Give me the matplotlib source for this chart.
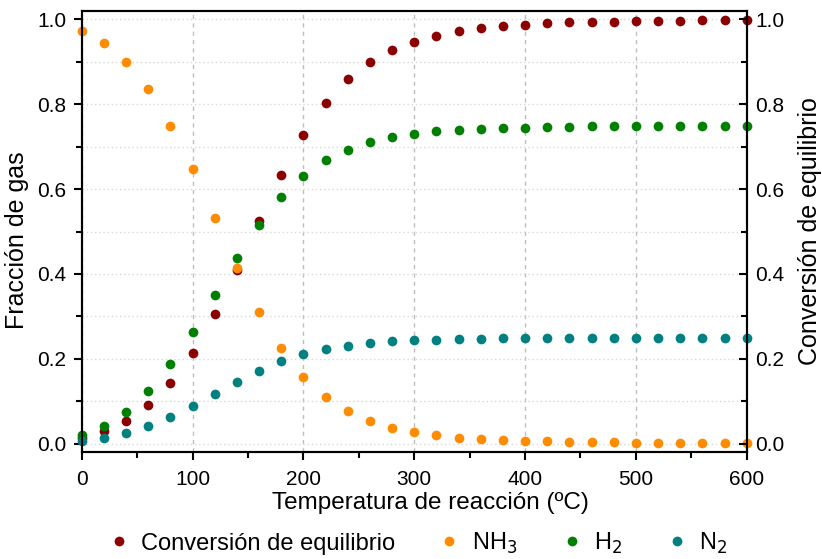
import matplotlib
matplotlib.use("Agg")
import matplotlib.pyplot as plt
from matplotlib.ticker import MultipleLocator, FormatStrFormatter

plt.rcParams["font.family"] = ["Liberation Sans", "DejaVu Sans"]

# Temperatura (ºC)
temperature = [0, 20, 40, 60, 80, 100, 120, 140, 160, 180, 200, 220, 240, 260,
               280, 300, 320, 340, 360, 380, 400, 420, 440, 460, 480, 500,
               520, 540, 560, 580, 600]

conversion = [0.014, 0.029, 0.053, 0.090, 0.143, 0.213, 0.305, 0.410, 0.525,
              0.633, 0.728, 0.803, 0.859, 0.900, 0.929, 0.948, 0.962, 0.972,
              0.979, 0.984, 0.988, 0.991, 0.993, 0.994, 0.995, 0.996, 0.997,
              0.997, 0.998, 0.998, 0.998]

nh3 = [0.972, 0.944, 0.900, 0.835, 0.750, 0.647, 0.532, 0.415, 0.311, 0.225,
       0.157, 0.109, 0.076, 0.053, 0.037, 0.027, 0.019, 0.014, 0.011, 0.008,
       0.006, 0.005, 0.004, 0.003, 0.003, 0.002, 0.002, 0.002, 0.001, 0.001,
       0.001]

h2 = [0.021, 0.042, 0.075, 0.124, 0.188, 0.264, 0.351, 0.437, 0.516, 0.581,
      0.632, 0.668, 0.693, 0.711, 0.722, 0.730, 0.736, 0.739, 0.742, 0.744,
      0.745, 0.746, 0.747, 0.748, 0.748, 0.748, 0.749, 0.749, 0.749, 0.749,
      0.749]

n2 = [0.007, 0.014, 0.025, 0.041, 0.063, 0.088, 0.117, 0.146, 0.172, 0.194,
      0.211, 0.223, 0.231, 0.237, 0.241, 0.243, 0.245, 0.246, 0.247, 0.248,
      0.248, 0.249, 0.249, 0.249, 0.249, 0.249, 0.250, 0.250, 0.250, 0.250,
      0.250]

fig = plt.figure(figsize=(8.22, 5.59), dpi=100)
ax = fig.add_axes([0.0994, 0.1914, 0.809, 0.7889])

ms = 7.0
ax.plot(temperature, conversion, "o", color="#8b0000", ms=ms, mec="none",
        label="Conversión de equilibrio", clip_on=False, zorder=3)
ax.plot(temperature, nh3, "o", color="#ff8c00", ms=ms, mec="none",
        label="NH$_3$", clip_on=False, zorder=3)
ax.plot(temperature, h2, "o", color="#008000", ms=ms, mec="none",
        label="H$_2$", clip_on=False, zorder=3)
ax.plot(temperature, n2, "o", color="#008080", ms=ms, mec="none",
        label="N$_2$", clip_on=False, zorder=3)

ax.set_xlim(0, 600)
ax.set_ylim(-0.02, 1.02)
ax.xaxis.set_major_locator(MultipleLocator(100))
ax.xaxis.set_minor_locator(MultipleLocator(50))
ax.yaxis.set_major_locator(MultipleLocator(0.2))
ax.yaxis.set_minor_locator(MultipleLocator(0.1))
ax.yaxis.set_major_formatter(FormatStrFormatter("%.1f"))

ax.grid(axis="x", which="major", color="#bdbdbd", linestyle=(0, (3, 3)),
        linewidth=1.0)
ax.grid(axis="y", which="both", color="#d8d8d8", linestyle=(0, (1, 2)),
        linewidth=1.0)
ax.set_axisbelow(True)

for s in ax.spines.values():
    s.set_linewidth(1.5)
ax.tick_params(which="major", length=6, width=1.5, labelsize=15,
               direction="out", pad=5)
ax.tick_params(which="minor", length=4, width=1.5, direction="out")
ax.tick_params(axis="x", which="both", top=False)
ax.tick_params(axis="x", which="major", pad=7)
ax.tick_params(axis="y", which="both", right=False)

ax.set_xlabel("Temperatura de reacción (ºC)", fontsize=17.5, labelpad=2)
ax.xaxis.label.set_x(0.524)
ax.set_ylabel("Fracción de gas", fontsize=18, labelpad=6)
ax.yaxis.label.set_y(0.48)

ax2 = ax.twinx()
ax2.set_ylim(ax.get_ylim())
ax2.yaxis.set_major_locator(MultipleLocator(0.2))
ax2.yaxis.set_minor_locator(MultipleLocator(0.1))
ax2.yaxis.set_major_formatter(FormatStrFormatter("%.1f"))
ax2.tick_params(which="major", length=6, width=1.5, labelsize=15,
                direction="in", pad=6)
ax2.tick_params(which="minor", length=4, width=1.5, direction="in")
for s in ax2.spines.values():
    s.set_linewidth(1.5)
ax2.set_ylabel("Conversión de equilibrio", fontsize=18, labelpad=10)

ax.legend(loc="upper center", bbox_to_anchor=(0.506, -0.13), ncol=4,
          frameon=False, fontsize=17, handletextpad=0.55, columnspacing=1.9,
          handlelength=0.8)

fig.savefig("out.png", dpi=100)
